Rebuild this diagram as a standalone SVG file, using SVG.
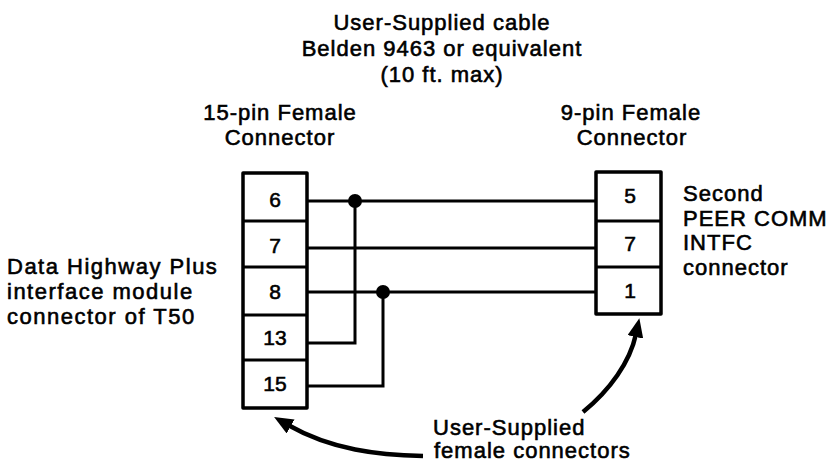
<svg xmlns="http://www.w3.org/2000/svg" width="836" height="467" viewBox="0 0 836 467">
<style>
text{font-family:"Liberation Sans",Arial,sans-serif;font-size:22px;fill:#000;stroke:#000;stroke-width:0.6;letter-spacing:1px}
.c{text-anchor:middle}
.wide{letter-spacing:1.5px}
.pin{font-size:21px;text-anchor:middle;letter-spacing:0}
.box{fill:#fff;stroke:#000;stroke-width:3.5;stroke-linejoin:round}
.div{stroke:#000;stroke-width:3}
.w{fill:none;stroke:#000;stroke-width:3}
.arr{fill:none;stroke:#000;stroke-width:4.5}
</style>
<defs>
<marker id="ah" markerUnits="userSpaceOnUse" markerWidth="20" markerHeight="16" viewBox="0 0 20 16" refX="3" refY="8" orient="auto">
<path d="M0,0 L19,8 L0,16 z" fill="#000"/>
</marker>
</defs>
<rect width="836" height="467" fill="#fff"/>

<g id="cable-label">
<text class="c" x="442" y="30">User-Supplied cable</text>
<text class="c" x="442" y="56">Belden 9463 or equivalent</text>
<text class="c" x="442" y="82">(10 ft. max)</text>
</g>

<g id="label-15pin">
<text class="c" x="280" y="120">15-pin Female</text>
<text class="c" x="280" y="145">Connector</text>
</g>

<g id="label-9pin">
<text class="c" x="631" y="120">9-pin Female</text>
<text class="c" x="632" y="145">Connector</text>
</g>

<g id="label-dhp">
<text class="wide" x="7" y="274">Data Highway Plus</text>
<text class="wide" x="7" y="299">interface module</text>
<text class="wide" x="7" y="324">connector of T50</text>
</g>

<g id="label-peer">
<text x="683" y="201">Second</text>
<text x="683" y="226">PEER COMM</text>
<text x="683" y="250">INTFC</text>
<text x="683" y="275">connector</text>
</g>

<g id="label-user">
<text x="433" y="435">User-Supplied</text>
<text x="434" y="458">female connectors</text>
</g>

<g id="connectors">
<path class="w" d="M307,201 H596"/>
<path class="w" d="M307,248 H596"/>
<path class="w" d="M307,292 H596"/>
<path class="w" d="M307,343 H355 V201"/>
<path class="w" d="M307,386 H383 V292"/>
<circle cx="355" cy="201" r="7"/>
<circle cx="383" cy="292" r="7"/>
<path class="arr" d="M423,456 C378,455 332,450 288,425" marker-end="url(#ah)"/>
<path class="arr" d="M583,412 C610,390 630,362 636,334" marker-end="url(#ah)"/>
</g>

<g id="conn15">
<rect class="box" x="243" y="173" width="64" height="235"/>
<path class="div" d="M243,221 H307 M243,267 H307 M243,315 H307 M243,360 H307"/>
<text class="pin" x="275" y="207">6</text>
<text class="pin" x="275" y="253">7</text>
<text class="pin" x="275" y="299">8</text>
<text class="pin" x="275" y="345">13</text>
<text class="pin" x="275" y="391">15</text>
</g>

<g id="conn9">
<rect class="box" x="596" y="172" width="65" height="142"/>
<path class="div" d="M596,221 H661 M596,267 H661"/>
<text class="pin" x="630" y="203">5</text>
<text class="pin" x="630" y="251">7</text>
<text class="pin" x="630" y="298">1</text>
</g>
</svg>
